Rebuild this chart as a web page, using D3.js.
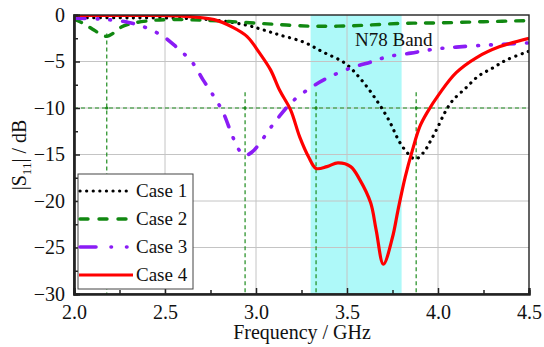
<!DOCTYPE html>
<html>
<head>
<meta charset="utf-8">
<script src="https://cdn.jsdelivr.net/npm/d3@7"></script>
<style>
  body { margin: 0; background: #fff; }
  svg text { font-family: "Liberation Serif", "DejaVu Serif", "Times New Roman", serif; fill: #111; }
</style>
</head>
<body>
<div id="chart"></div>
<script>
// S11 curves
var case1F = [2.0, 2.3, 2.6, 2.8, 2.95, 3.04, 3.13, 3.26, 3.37, 3.49, 3.58, 3.66, 3.73, 3.79, 3.84, 3.875, 3.92, 3.96, 4.0, 4.04, 4.08, 4.15, 4.22, 4.3, 4.38, 4.5];
var case1V = [-0.3, -0.3, -0.35, -0.6, -1.1, -1.6, -2.15, -2.9, -4.0, -5.2, -7.0, -9.1, -11.3, -13.7, -15.0, -15.5, -14.8, -13.5, -12.0, -10.4, -9.2, -7.9, -6.6, -5.7, -4.8, -3.9];

var case2F = [2.0, 2.05, 2.1, 2.15, 2.18, 2.22, 2.26, 2.32, 2.4, 2.5, 2.7, 2.9, 3.1, 3.3, 3.45, 3.6, 3.8, 4.0, 4.25, 4.5];
var case2V = [-0.45, -0.9, -1.5, -2.1, -2.3, -1.9, -1.3, -0.9, -0.65, -0.5, -0.55, -0.75, -1.0, -1.2, -1.2, -1.1, -0.9, -0.85, -0.72, -0.6];

var case3F = [2.0, 2.16, 2.3, 2.4, 2.49, 2.56, 2.65, 2.71, 2.77, 2.82, 2.87, 2.91, 2.94, 2.98, 3.02, 3.07, 3.12, 3.2, 3.31, 3.39, 3.52, 3.64, 3.72, 3.85, 3.97, 4.1, 4.3, 4.5];
var case3V = [-0.35, -0.45, -0.8, -1.4, -2.3, -3.4, -5.1, -7.0, -8.8, -10.5, -13.0, -14.6, -15.1, -14.7, -13.8, -12.4, -11.1, -9.3, -7.7, -6.8, -5.7, -5.0, -4.5, -4.1, -3.7, -3.45, -3.2, -3.0];

var case4F = [2.0, 2.3, 2.58, 2.77, 2.87, 2.95, 3.02, 3.08, 3.13, 3.19, 3.24, 3.29, 3.33, 3.39, 3.45, 3.52, 3.57, 3.63, 3.66, 3.7, 3.75, 3.78, 3.82, 3.86, 3.9, 3.94, 4.01, 4.1, 4.21, 4.34, 4.5];
var case4V = [-0.05, -0.05, -0.1, -0.5, -1.3, -2.3, -4.1, -5.9, -8.1, -10.2, -13.1, -15.3, -16.5, -16.3, -15.9, -16.3, -17.7, -20.2, -23.1, -26.8, -23.9, -21.0, -17.4, -14.5, -12.0, -10.5, -8.4, -6.2, -4.6, -3.4, -2.5];

var caseNames = ["Case 1", "Case 2", "Case 3", "Case 4"];

// band and -10 dB markers
var bandRange = [3.3, 3.8];
var bandLabel = "N78 Band";
var refLevel = -10;
var refF = [2.18, 2.94, 3.33, 3.88];
var refTop = [-2.0, -8.3, -8.3, -8.3];

var xTicks = [2.0, 2.5, 3.0, 3.5, 4.0, 4.5];
var xMinor = [2.25, 2.75, 3.25, 3.75, 4.25];
var yTicks = [0, -5, -10, -15, -20, -25, -30];
var yMinor = [-2.5, -7.5, -12.5, -17.5, -22.5, -27.5];

var W = 544, H = 347;
// note: "top" is taken by window.top, so plot bounds get their own names
var pL = 74, pR = 529, pT = 15, pB = 294;

var x = d3.scaleLinear().domain([2.0, 4.5]).range([pL, pR]);
var y = d3.scaleLinear().domain([-30, 0]).range([pB, pT]);

var svg = d3.select("#chart").append("svg")
	.attr("width", W)
	.attr("height", H);

svg.append("clipPath").attr("id", "plotclip")
	.append("rect")
	.attr("x", pL).attr("y", pT)
	.attr("width", pR - pL).attr("height", pB - pT);

// cyan band
svg.append("rect")
	.attr("x", x(bandRange[0]))
	.attr("y", pT)
	.attr("width", x(bandRange[1]) - x(bandRange[0]))
	.attr("height", pB - pT)
	.attr("fill", "#aef9f9");

// grid
svg.append("g").selectAll("line")
	.data(xTicks.slice(1, -1))
	.join("line")
	.attr("x1", d => x(d)).attr("x2", d => x(d))
	.attr("y1", pT).attr("y2", pB)
	.attr("stroke", "#c4c4c4").attr("stroke-width", 1);
svg.append("g").selectAll("line")
	.data(yTicks.slice(1, -1))
	.join("line")
	.attr("x1", pL).attr("x2", pR)
	.attr("y1", d => y(d)).attr("y2", d => y(d))
	.attr("stroke", "#c4c4c4").attr("stroke-width", 1);

// -10 dB reference lines
var refG = svg.append("g").attr("stroke", "#1e8c1e").attr("stroke-width", 1.2).attr("stroke-dasharray", "4,3");
refG.append("line")
	.attr("x1", pL).attr("x2", pR)
	.attr("y1", y(refLevel)).attr("y2", y(refLevel));
refG.selectAll("line.v")
	.data(refF)
	.join("line")
	.attr("class", "v")
	.attr("x1", d => x(d)).attr("x2", d => x(d))
	.attr("y1", (d, i) => y(refTop[i])).attr("y2", pB);
svg.append("g").selectAll("circle")
	.data(refF)
	.join("circle")
	.attr("cx", d => x(d)).attr("cy", y(refLevel)).attr("r", 1.6)
	.attr("fill", "#1e8c1e");

svg.append("text")
	.attr("x", 355).attr("y", 46)
	.attr("font-size", 19)
	.text(bandLabel);

// curves
var styles = [
	{ color: "#000000", width: 3.2, dash: "0.1,6.5", cap: "round" },
	{ color: "#118811", width: 3.4, dash: "8,10", cap: "round" },
	{ color: "#8a1cf5", width: 3.6, dash: "11,12,0.8,12,0.8,12", cap: "round" },
	{ color: "#ff0000", width: 3.2, dash: null, cap: "butt" }
];
var series = [
	{ f: case1F, v: case1V },
	{ f: case2F, v: case2V },
	{ f: case3F, v: case3V },
	{ f: case4F, v: case4V }
];

var line = d3.line()
	.x(d => x(d[0]))
	.y(d => y(d[1]))
	.curve(d3.curveCatmullRom.alpha(0.5));

var curveG = svg.append("g").attr("clip-path", "url(#plotclip)");
series.forEach(function(s, i) {
	var pts = s.f.map((f, j) => [f, s.v[j]]);
	curveG.append("path")
		.attr("d", line(pts))
		.attr("fill", "none")
		.attr("stroke", styles[i].color)
		.attr("stroke-width", styles[i].width)
		.attr("stroke-linecap", styles[i].cap)
		.attr("stroke-dasharray", styles[i].dash);
});

// frame
svg.append("rect")
	.attr("x", pL).attr("y", pT)
	.attr("width", pR - pL).attr("height", pB - pT)
	.attr("fill", "none").attr("stroke", "#222").attr("stroke-width", 1.4);

// axes
svg.append("g")
	.attr("transform", "translate(0," + pB + ")")
	.call(d3.axisBottom(x).tickValues(xTicks).tickFormat(d3.format(".1f")).tickSize(-6).tickPadding(11));
svg.append("g")
	.attr("transform", "translate(0," + pB + ")")
	.call(d3.axisBottom(x).tickValues(xMinor).tickFormat("").tickSize(-4));
svg.append("g")
	.attr("transform", "translate(" + pL + ",0)")
	.call(d3.axisLeft(y).tickValues(yTicks).tickFormat(d3.format("d")).tickSize(-6).tickPadding(9));
svg.append("g")
	.attr("transform", "translate(" + pL + ",0)")
	.call(d3.axisLeft(y).tickValues(yMinor).tickFormat("").tickSize(-4));

svg.selectAll(".domain").attr("stroke", "#222").attr("stroke-width", 2.2);
svg.selectAll(".tick line").attr("stroke", "#222").attr("stroke-width", 1.5);
svg.selectAll(".tick text")
	.attr("font-family", "'Liberation Serif', 'DejaVu Serif', serif")
	.attr("font-size", 20)
	.attr("fill", "#111");

// axis titles
svg.append("text")
	.attr("x", 302).attr("y", 339)
	.attr("text-anchor", "middle")
	.attr("font-size", 20)
	.text("Frequency / GHz");

var yl = svg.append("text")
	.attr("transform", "translate(26,155) rotate(-90)")
	.attr("text-anchor", "middle")
	.attr("font-size", 20);
yl.append("tspan").text("|S");
yl.append("tspan").attr("font-size", 13).attr("dy", 5).text("11");
yl.append("tspan").attr("dy", -5).text("| / dB");

// legend
var leg = svg.append("g");
leg.append("rect")
	.attr("x", 78).attr("y", 174)
	.attr("width", 115).attr("height", 115)
	.attr("fill", "#fff").attr("stroke", "#444").attr("stroke-width", 1);
var legDash = ["0.1,6.5", "8,11", "16,15,0.5,15,0.5,15", null];
caseNames.forEach(function(name, i) {
	var ly = 191 + i * 28;
	leg.append("line")
		.attr("x1", i == 3 ? 79 : 80).attr("x2", i == 3 ? 133 : 128)
		.attr("y1", ly).attr("y2", ly)
		.attr("stroke", styles[i].color)
		.attr("stroke-width", styles[i].width)
		.attr("stroke-linecap", styles[i].cap)
		.attr("stroke-dasharray", legDash[i]);
	leg.append("text")
		.attr("x", 136).attr("y", ly + 6)
		.attr("font-size", 19)
		.text(name);
});
</script>
</body>
</html>
